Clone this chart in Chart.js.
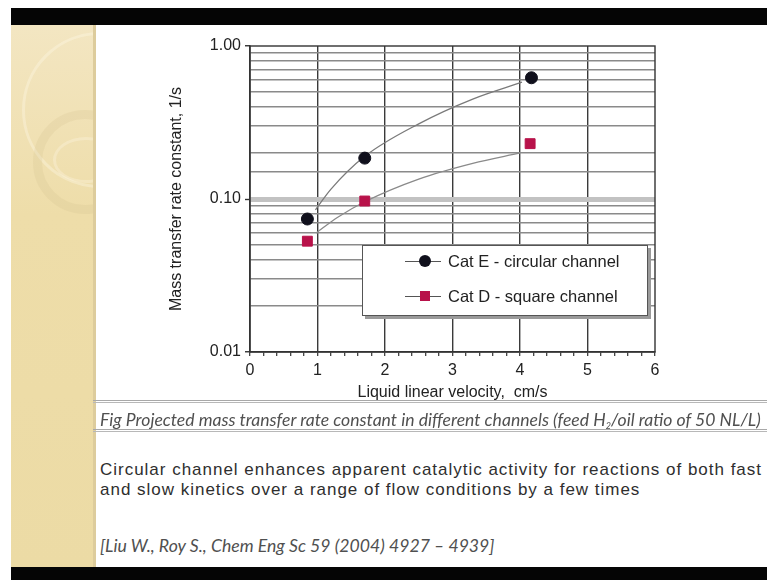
<!DOCTYPE html>
<html lang="en">
<head>
<meta charset="UTF-8">
<title>Mass transfer rate constant vs liquid velocity</title>
<script src="https://cdn.jsdelivr.net/npm/chart.js"></script>
<style>
  body { margin: 0; width: 767px; height: 580px; position: relative; overflow: hidden; background: #fff; font-family: "Liberation Sans", Arial, sans-serif; }
  .bar { position: absolute; left: 11px; width: 756px; background: #050505; }
  .panel { position: absolute; left: 11px; top: 25px; width: 82px; height: 542px; overflow: hidden;
           background: linear-gradient(#f3e6c2, #eedda9 35%, #ecdba5); border-right: 3px solid #ddcc9c; }
  .ring { position: absolute; border-radius: 50%; }
  #chartBox { position: absolute; left: 150px; top: 30px; }
  .legend { position: absolute; left: 362px; top: 245px; width: 284px; height: 69px; background: #fff;
            border: 1px solid #555; box-shadow: 3px 3px 0 #9a9a9a; font-size: 16.5px; color: #222; }
  .item { position: absolute; left: 0; height: 19px; width: 100%; }
  .item .ln { position: absolute; left: 42px; top: 9px; width: 36px; height: 1px; background: #555; }
  .item .mk { position: absolute; }
  .item .tx { position: absolute; left: 85px; top: 0; line-height: 19px; white-space: nowrap; }
  .txt { position: absolute; left: 100px; white-space: nowrap; }
  .fit { display: inline-block; white-space: nowrap; }
  .caption { top: 411px; line-height: 18px; font-family: Lato, "Open Sans", sans-serif; font-style: italic; color: #505050; font-size: 15px; }
  .rule { position: absolute; left: 93px; width: 674px; height: 3px; border-top: 1px solid #a8a8a8; border-bottom: 1px solid #b8b8b8; box-sizing: border-box; }
  .body { top: 460px; line-height: 20px; font-family: "Liberation Sans", Arial, sans-serif; color: #2e2e2e; font-size: 17px; }
  .ref { top: 537px; line-height: 18px; font-family: Lato, "Open Sans", sans-serif; font-style: italic; color: #505050; font-size: 15px; }
</style>
</head>
<body>
<div class="bar" style="top:8px;height:17px"></div>
<div class="panel">
  <div class="ring" style="left:11px;top:7px;width:150px;height:150px;border:3px solid rgba(255,250,232,0.35)"></div>
  <div class="ring" style="left:22px;top:85px;width:86px;height:86px;border:9px solid rgba(210,190,140,0.22)"></div>
  <div class="ring" style="left:42px;top:112px;width:60px;height:40px;border:3px solid rgba(255,250,232,0.3)"></div>
</div>
<div class="bar" style="top:567px;height:13px"></div>

<div id="chartBox"><canvas id="massChart" width="520" height="380"></canvas></div>

<div class="legend">
  <div class="item" style="top:6px">
    <div class="ln"></div>
    <div class="mk" style="left:56px;top:3px;width:12px;height:12px;border-radius:50%;background:#10101c"></div>
    <div class="tx" id="legE"></div>
  </div>
  <div class="item" style="top:41px">
    <div class="ln"></div>
    <div class="mk" style="left:57px;top:4px;width:10px;height:10px;background:#b8124a"></div>
    <div class="tx" id="legD"></div>
  </div>
</div>

<div class="rule" style="top:400px"></div>
<div class="txt caption"><span class="fit" id="cap">Fig Projected mass transfer rate constant in different channels (feed H<sub style="font-size:9px;vertical-align:-3px;line-height:0">2</sub>/oil ratio of 50 NL/L)</span></div>
<div class="rule" style="top:429px"></div>
<div class="txt body"><span class="fit" id="body1">Circular channel enhances apparent catalytic activity for reactions of both fast</span><br><span class="fit" id="body2">and slow kinetics over a range of flow conditions by a few times</span></div>
<div class="txt ref"><span class="fit" id="ref">[Liu W., Roy S., Chem Eng Sc 59 (2004) 4927 – 4939]</span></div>

<script>
// measured points
const velocityE = [0.85, 1.70, 4.17];
const rateE = [0.074, 0.185, 0.62];
const velocityD = [0.85, 1.70, 4.15];
const rateD = [0.053, 0.097, 0.23];

// trend curves
const fitVelocityE = [0.97, 1.2, 1.7, 2.5, 3.3, 4.03];
const fitRateE = [0.085, 0.116, 0.19, 0.31, 0.45, 0.58];
const fitVelocityD = [0.98, 1.3, 1.7, 2.5, 3.3, 4.0];
const fitRateD = [0.06, 0.076, 0.096, 0.135, 0.171, 0.2];

const seriesNames = ['Cat E - circular channel', 'Cat D - square channel'];
const xTickLabels = ['0', '1', '2', '3', '4', '5', '6'];
const yTickLabels = ['0.01', '0.10', '1.00'];

function pts(xs, ys) {
    return xs.map((x, i) => ({ x: x, y: ys[i] }));
}

function isWhole(v) {
    return Math.abs(v - Math.round(v)) < 1e-6;
}

function isDecade(v) {
    return isWhole(Math.log10(v));
}

document.getElementById('legE').textContent = seriesNames[0];
document.getElementById('legD').textContent = seriesNames[1];

// frame round the plot (top and right edges)
const frame = {
    id: 'frame',
    afterDatasetsDraw(chart) {
        const a = chart.chartArea, c = chart.ctx;
        c.save();
        c.strokeStyle = '#333';
        c.lineWidth = 1.4;
        c.strokeRect(a.left, a.top, a.right - a.left, a.bottom - a.top);
        c.restore();
    }
};

const font = { family: '"Liberation Sans", Arial, sans-serif', size: 16 };

new Chart(document.getElementById('massChart'), {
    type: 'scatter',
    data: {
        datasets: [
            { label: seriesNames[0], data: pts(velocityE, rateE), pointStyle: 'circle', pointRadius: 6,
              pointBackgroundColor: '#10101c', pointBorderColor: '#10101c', showLine: false },
            { label: seriesNames[1], data: pts(velocityD, rateD), pointStyle: 'rect', pointRadius: 7,
              pointBackgroundColor: '#b8124a', pointBorderColor: '#b8124a', showLine: false },
            { label: 'fit E', data: pts(fitVelocityE, fitRateE), showLine: true, pointRadius: 0,
              borderColor: '#7a7a7a', borderWidth: 1.3, cubicInterpolationMode: 'monotone' },
            { label: 'fit D', data: pts(fitVelocityD, fitRateD), showLine: true, pointRadius: 0,
              borderColor: '#8a8a8a', borderWidth: 1.3, cubicInterpolationMode: 'monotone' }
        ]
    },
    options: {
        responsive: false,
        animation: false,
        layout: { padding: { top: 16, right: 15, left: 0, bottom: 0 } },
        plugins: { legend: { display: false }, tooltip: { enabled: false } },
        scales: {
            x: {
                type: 'linear', min: 0, max: 6,
                afterFit(scale) { scale.height = 58; },
                border: { color: '#333', width: 1.5 },
                grid: {
                    color: ctx => (ctx.tick && isWhole(ctx.tick.value) && ctx.tick.value > 0 && ctx.tick.value < 6) ? '#3a3a3a' : 'rgba(0,0,0,0)',
                    lineWidth: 1.4,
                    tickColor: '#333',
                    tickWidth: 1.2,
                    tickLength: 4
                },
                ticks: {
                    stepSize: 0.2, maxTicksLimit: 40, autoSkip: false, maxRotation: 0, padding: 5,
                    color: '#222', font: font,
                    callback: v => isWhole(v) ? xTickLabels[Math.round(v)] : ''
                },
                title: { display: true, text: 'Liquid linear velocity,  cm/s', color: '#222', font: font, padding: { top: 2, bottom: 8 } }
            },
            y: {
                type: 'logarithmic', min: 0.01, max: 1,
                afterFit(scale) { scale.width = 100; },
                border: { color: '#333', width: 1.5 },
                grid: {
                    color: ctx => {
                        if (!ctx.tick) return 'rgba(0,0,0,0)';
                        const v = ctx.tick.value;
                        if (Math.abs(v - 0.1) < 1e-9) return '#c2c2c2';
                        if (isDecade(v)) return 'rgba(0,0,0,0)';
                        return '#8a8a8a';
                    },
                    lineWidth: ctx => (ctx.tick && Math.abs(ctx.tick.value - 0.1) < 1e-9) ? 5 : 1.5,
                    tickColor: ctx => (ctx.tick && isDecade(ctx.tick.value)) ? '#333' : 'rgba(0,0,0,0)',
                    tickWidth: 1.4,
                    tickLength: 5
                },
                ticks: {
                    autoSkip: false, padding: 4, color: '#222', font: font,
                    callback: v => isDecade(v) ? yTickLabels[Math.round(Math.log10(v)) + 2] : ''
                },
                title: { display: true, text: 'Mass transfer rate constant, 1/s', color: '#222', font: font, padding: { top: 17, bottom: 0 } }
            }
        }
    },
    plugins: [frame]
});

// stretch the slide text lines to the widths they take in the figure
function fitWidth(id, target) {
    const el = document.getElementById(id);
    const w = el.getBoundingClientRect().width;
    const size = parseFloat(getComputedStyle(el).fontSize);
    el.style.fontSize = (size * target / w) + 'px';
}
function fitSpacing(id, target) {
    const el = document.getElementById(id);
    const w = el.getBoundingClientRect().width;
    const n = el.textContent.length;
    const sp = (target - w) / n;
    el.style.letterSpacing = sp + 'px';
    return sp;
}
fitWidth('cap', 662);
const bodySpacing = fitSpacing('body1', 662);
document.getElementById('body2').style.letterSpacing = bodySpacing + 'px';
fitWidth('ref', 395);
</script>
</body>
</html>
